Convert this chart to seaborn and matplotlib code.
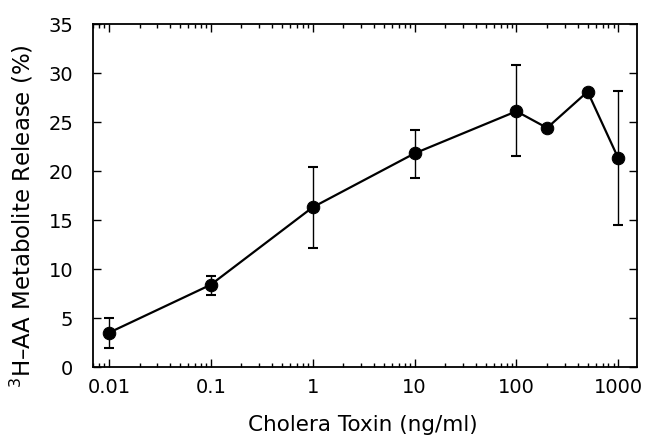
import matplotlib
matplotlib.use("Agg")
import matplotlib.pyplot as plt
import matplotlib.ticker as mticker
import seaborn as sns
import pandas as pd
import numpy as np

# Data
dose = [0.01, 0.1, 1, 10, 100, 200, 500, 1000]
release = [3.5, 8.4, 16.3, 21.8, 26.1, 24.4, 28.1, 21.3]
err_low = [1.9, 7.4, 12.2, 19.3, 21.5, None, None, 14.5]
err_high = [5.0, 9.3, 20.4, 24.2, 30.8, None, None, 28.2]
xtick_vals = [0.01, 0.1, 1, 10, 100, 1000]
xtick_labels = ["0.01", "0.1", "1", "10", "100", "1000"]
ytick_vals = [0, 5, 10, 15, 20, 25, 30, 35]

sns.set_style("ticks")
plt.rcParams['font.family'] = ['DejaVu Sans']
plt.rcParams['mathtext.fontset'] = 'dejavusans'
for k in ["text.color", "axes.labelcolor", "xtick.color", "ytick.color", "axes.edgecolor"]:
    plt.rcParams[k] = "black"

df = pd.DataFrame({"dose": dose, "release": release})

fig = plt.figure(figsize=(6.45, 4.37), dpi=100)
ax = fig.add_axes([0.144, 0.160, 0.844, 0.785])

sns.lineplot(data=df, x="dose", y="release", ax=ax, color="black",
             linewidth=1.6, marker="o", markersize=9, markeredgecolor="black",
             markerfacecolor="black", zorder=3)

# error bars only where given
ex, ey, elo, ehi = [], [], [], []
for d, r, lo, hi in zip(dose, release, err_low, err_high):
    if lo is not None:
        ex.append(d); ey.append(r); elo.append(r - lo); ehi.append(hi - r)
ax.errorbar(ex, ey, yerr=[elo, ehi], fmt="none", ecolor="black",
            elinewidth=1.0, capsize=3.5, capthick=1.5, zorder=2)

ax.set_xscale("log")
ax.set_xlim(0.00697, 1535)
ax.set_ylim(0, 35)
ax.set_xticks(xtick_vals)
ax.set_xticklabels(xtick_labels)
ax.xaxis.set_minor_locator(mticker.LogLocator(base=10, subs=np.arange(2, 10), numticks=20))
ax.xaxis.set_minor_formatter(mticker.NullFormatter())
ax.set_yticks(ytick_vals)
ax.set_yticklabels([str(v) for v in ytick_vals])

ax.tick_params(which="both", direction="in", top=True, right=True,
               labelsize=14, color="black", labelcolor="black", width=1.0)
ax.tick_params(which="major", length=6)
ax.tick_params(axis="x", which="major", pad=8)
ax.tick_params(axis="y", which="major", pad=14)
ax.tick_params(which="minor", length=3)
for s in ax.spines.values():
    s.set_linewidth(1.3)
    s.set_color("black")

ax.set_xlabel("Cholera Toxin (ng/ml)", fontsize=15.5, va="center", color="black")
ax.xaxis.set_label_coords(0.496, -0.169)
ax.set_ylabel("$^{3}$H–AA Metabolite Release (%)", fontsize=16.5, va="center", color="black")
ax.yaxis.set_label_coords(-0.131, 0.44)

fig.savefig("out.png", dpi=100)
